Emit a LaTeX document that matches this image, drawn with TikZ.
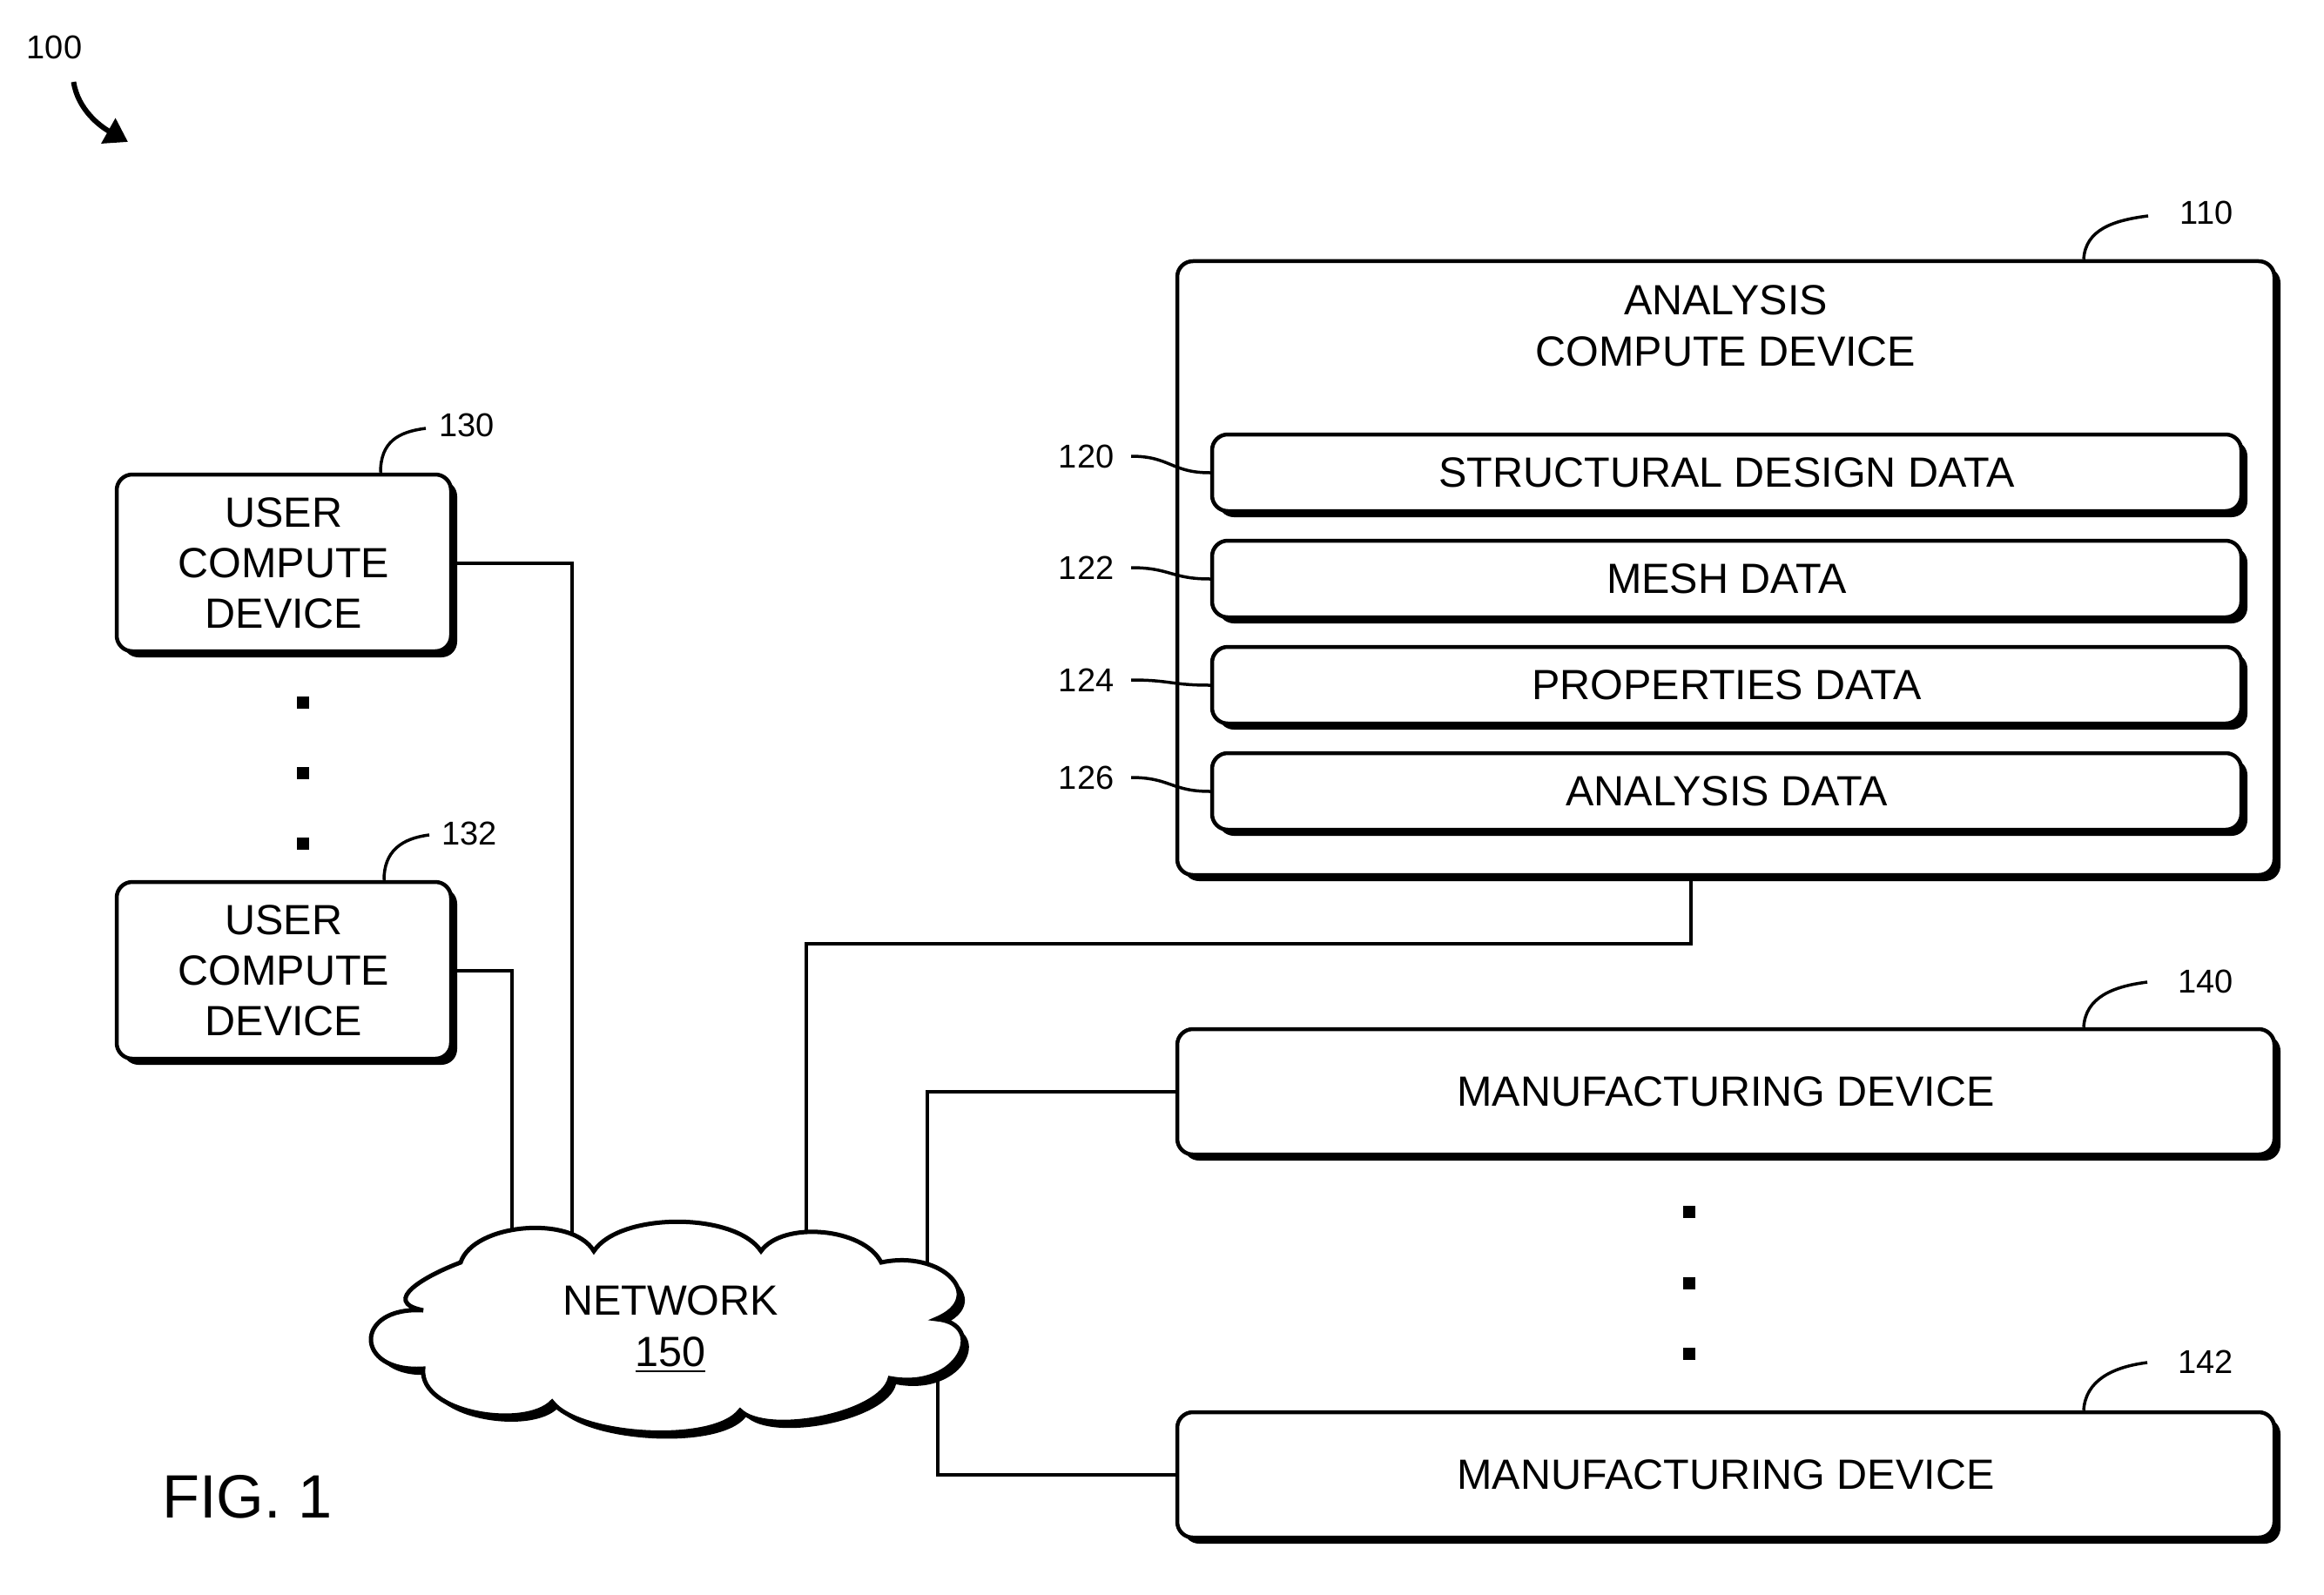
\documentclass[tikz,border=0pt]{standalone}
\usepackage{fontspec}
\setmainfont{Liberation Sans}
\usetikzlibrary{shadows, arrows.meta, backgrounds}

\begin{document}
\begin{tikzpicture}[
        x=1mm, y=-1mm,
        box/.style={rectangle, draw, fill=white, line width=0.45mm, rounded corners=1.8mm,
            inner sep=0pt, align=center, font=\fontsize{13.8}{16.5}\selectfont,
            drop shadow={shadow xshift=0.7mm, shadow yshift=-0.7mm, fill=black, opacity=1}},
        datarow/.style={box, minimum width=118.2mm, minimum height=8.8mm},
        devbox/.style={box, minimum width=126mm, minimum height=14.4mm},
        userbox/.style={box, minimum width=38.4mm, minimum height=20.3mm},
        cloudline/.style={draw, fill=white, line width=0.5mm,
            drop shadow={shadow xshift=0.7mm, shadow yshift=-0.7mm, fill=black, opacity=1}},
        refnum/.style={inner sep=0pt, font=\fontsize{10.8}{12}\selectfont},
        lead/.style={line width=0.35mm},
        wire/.style={line width=0.4mm}
    ]
    \useasboundingbox (0,0) rectangle (266.9,183.1);

    % Systeme 100
    \node[refnum, anchor=base] (l100) at (6.25, 6.8) {100};
    \coordinate (sys) at (14.7, 16.3);
    \draw[line width=0.6mm, -{Triangle[length=2.6mm, width=3.2mm]}]
        ([xshift=2.2mm, yshift=-2.5mm]l100.south) .. controls +(0.5,3.2) and +(-3.2,-1.8) .. (sys);

    % Dispositifs utilisateur
    \node[userbox] (u1) at (32.6, 64.65) {USER\\COMPUTE\\DEVICE};
    \node[userbox] (u2) at (32.6, 111.45) {USER\\COMPUTE\\DEVICE};
    \node[refnum, anchor=west] (l130) at (50.4, 48.8) {130};
    \node[refnum, anchor=west] (l132) at (50.7, 95.7) {132};
    \draw[lead] ([xshift=11.1mm]u1.north) .. controls +(0,-3.5) and +(-3.2,0.4) .. ([xshift=-1.5mm, yshift=-0.4mm]l130.west);
    \draw[lead] ([xshift=11.5mm]u2.north) .. controls +(0,-3.3) and +(-3.2,0.4) .. ([xshift=-1.4mm, yshift=-0.2mm]l132.west);
    \foreach \y in {80.7, 88.8, 96.9}
        \fill (34.1, \y-0.7) rectangle +(1.4, 1.4);

    % Dispositif d'analyse
    \node[box, minimum width=126mm, minimum height=70.5mm] (acd) at (198.2, 65.25) {};
    \node[font=\fontsize{13.8}{16.7}\selectfont, align=center] (acdt) at (198.2, 37.4) {ANALYSIS\\COMPUTE DEVICE};
    \node[refnum, anchor=west] (l110) at (250.3, 24.4) {110};
    \draw[lead] ([xshift=41.1mm]acd.north) .. controls +(0.2,-3.4) and +(-4,0.5) .. ([xshift=-3.6mm, yshift=-0.4mm]l110.west);

    % Donnees
    \node[datarow] (d120) at (198.3, 54.3) {STRUCTURAL DESIGN DATA};
    \node[datarow] (d122) at (198.3, 66.5) {MESH DATA};
    \node[datarow] (d124) at (198.3, 78.7) {PROPERTIES DATA};
    \node[datarow] (d126) at (198.3, 90.9) {ANALYSIS DATA};
    \node[refnum, anchor=east] (l120) at (128.0, 52.4) {120};
    \node[refnum, anchor=east] (l122) at (128.0, 65.2) {122};
    \node[refnum, anchor=east] (l124) at (128.0, 78.1) {124};
    \node[refnum, anchor=east] (l126) at (128.0, 89.3) {126};
    \foreach \n in {120, 122, 124, 126}
        \draw[lead] ([xshift=1.9mm]l\n.east) .. controls +(4.5,0) and +(-4.5,0) .. (d\n.west);

    % Dispositifs de fabrication
    \node[devbox] (m1) at (198.2, 125.4) {MANUFACTURING DEVICE};
    \node[devbox] (m2) at (198.2, 169.4) {MANUFACTURING DEVICE};
    \node[refnum, anchor=west] (l140) at (250.1, 112.7) {140};
    \node[refnum, anchor=west] (l142) at (250.1, 156.4) {142};
    \draw[lead] ([xshift=41.1mm]m1.north) .. controls +(0.2,-3.4) and +(-4,0.5) .. ([xshift=-3.5mm, yshift=-0.1mm]l140.west);
    \draw[lead] ([xshift=41.1mm]m2.north) .. controls +(0.2,-3.4) and +(-4,0.5) .. ([xshift=-3.5mm, yshift=-0.1mm]l142.west);
    \foreach \y in {139.2, 147.4, 155.5}
        \fill (193.3, \y-0.7) rectangle +(1.4, 1.4);

    % Reseau (nuage)
    \path[cloudline] (52.9,145.0)
        .. controls +(1.5,-4.5) and +(-2.5,-4.2) .. (68.2,143.7)
        .. controls +(3,-4.5) and +(-3,-4.5) .. (87.4,143.7)
        .. controls +(2.5,-3.5) and +(-2,-4) .. (101.2,145.0)
        .. controls +(7,-1.5) and +(6,-2.5) .. (107.5,151.5)
        .. controls +(6,0.5) and +(8,1.5) .. (102.2,158.3)
        .. controls +(-1,4.2) and +(3,3) .. (85.0,162.0)
        .. controls +(-3,4) and +(3,4) .. (63.4,161.0)
        .. controls +(-3,3.2) and +(-0.5,5.2) .. (48.6,157.2)
        .. controls +(-8,0.5) and +(-8,-0.5) .. (48.6,150.5)
        .. controls +(-5,-1) and +(-4,1.5) .. (52.9,145.0) -- cycle;
    \node[align=center, font=\fontsize{13.8}{16.7}\selectfont] (net) at (77.0, 152.7) {NETWORK\\\underline{150}};

    % Liaisons
    \begin{scope}[on background layer]
        \draw[wire] (u1.east) -| ([xshift=-11.3mm]net.center);
        \draw[wire] (u2.east) -| ([xshift=-18.25mm]net.center);
        \draw[wire] ([xshift=-4mm]acd.south) -- ++(0,7.7) -| ([xshift=15.6mm]net.center);
        \draw[wire] (m1.west) -| ([xshift=29.5mm]net.center);
        \draw[wire] (m2.west) -| ([xshift=30.7mm]net.center);
    \end{scope}

    \node[anchor=base, inner sep=0pt, font=\fontsize{20}{24}\selectfont] (fig) at (28.4, 174.3) {FIG. 1};

\end{tikzpicture}
\end{document}
